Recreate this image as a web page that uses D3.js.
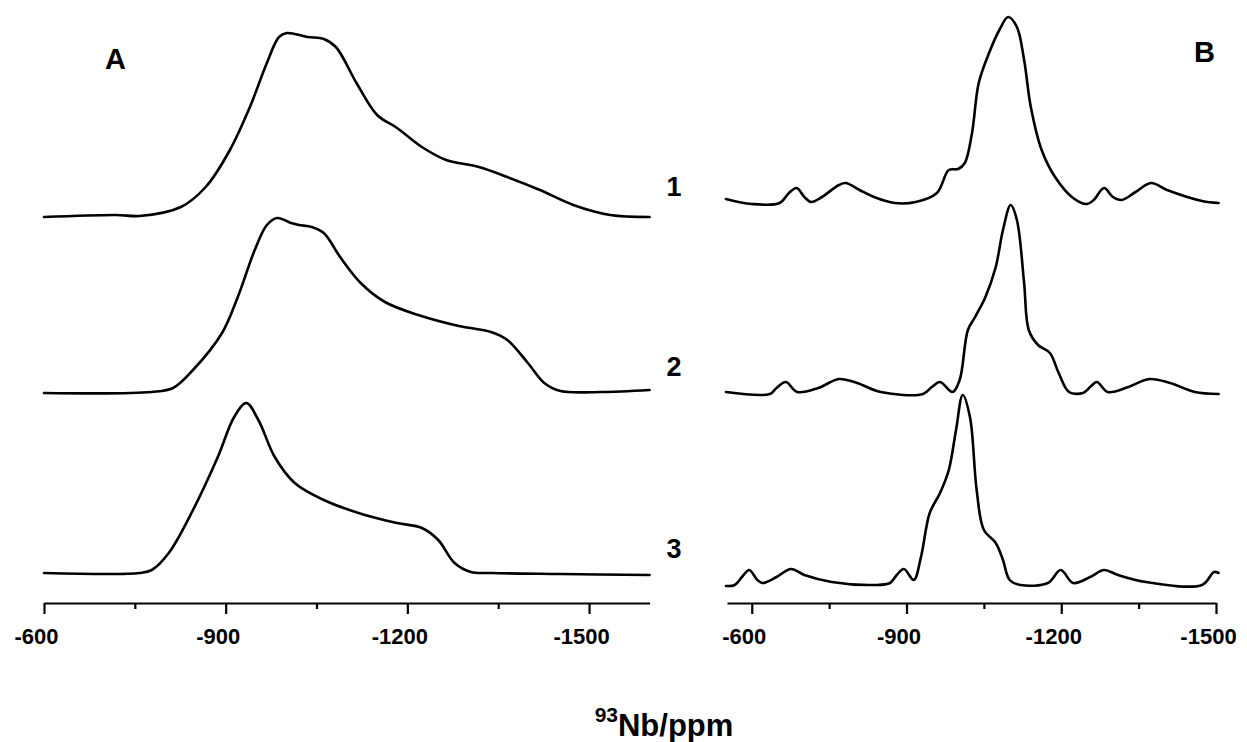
<!DOCTYPE html>
<html>
<head>
<meta charset="utf-8">
<script src="https://cdn.jsdelivr.net/npm/d3@7"></script>
<style>
  html, body { margin: 0; padding: 0; background: #fff; }
  svg { display: block; }
  text { font-family: "Liberation Sans", Arial, Helvetica, sans-serif; font-weight: bold; fill: #000; }
</style>
</head>
<body>
<svg id="chart" width="1247" height="742"></svg>
<script>
// ---------- DATA ----------
// Panel A: chemical shift (ppm) and intensity (arbitrary units)
const A1_ppm = [-600,-719,-758,-826,-867,-907,-940,-968,-988,-1001,-1035,-1062,-1082,-1116,-1150,-1183,-1224,-1264,-1318,-1365,-1419,-1474,-1535,-1600];
const A1_int = [0,2,1,10,30,67,110,154,180,184,180,178,170,134,102,89,70,57,50,40,27,12,2,0];

const A2_ppm = [-600,-778,-813,-846,-894,-920,-948,-968,-985,-1008,-1021,-1042,-1062,-1089,-1123,-1163,-1218,-1285,-1338,-1365,-1399,-1426,-1453,-1520,-1600];
const A2_int = [0,1,5,23,60,96,143,168,175,170,168,166,160,136,110,91,78,67,61,53,30,10,2,1,3];

const A3_ppm = [-600,-758,-778,-806,-846,-887,-914,-934,-954,-981,-1014,-1062,-1130,-1183,-1224,-1251,-1278,-1305,-1340,-1453,-1600];
const A3_int = [0,0,3,20,63,116,156,170,153,116,90,73,58,50,45,33,10,1,0,-1,-2];

// Panel B
const B1_ppm = [-550,-600,-654,-672,-687,-702,-715,-736,-769,-782,-809,-837,-877,-918,-959,-982,-1000,-1013,-1027,-1040,-1060,-1080,-1097,-1114,-1128,-1141,-1162,-1188,-1223,-1250,-1263,-1283,-1300,-1317,-1344,-1374,-1405,-1473,-1505];
const B1_int = [4,-1,0,10,15,6,1,6,18,20,13,6,0,1,10,33,34,40,70,120,150,173,186,176,143,96,53,26,5,-1,3,15,6,3,11,20,13,2,0];

const B2_ppm = [-550,-635,-648,-666,-688,-729,-769,-804,-850,-932,-949,-965,-989,-1003,-1019,-1033,-1053,-1073,-1087,-1102,-1114,-1128,-1137,-1155,-1178,-1195,-1215,-1242,-1256,-1269,-1290,-1330,-1371,-1411,-1459,-1505];
const B2_int = [2,0,6,12,2,6,15,11,2,0,7,12,2,14,64,77,97,127,164,189,174,111,64,49,41,21,2,1,7,12,2,7,15,11,2,0];

const B3_ppm = [-550,-567,-581,-595,-611,-621,-648,-676,-702,-755,-837,-868,-881,-895,-914,-928,-945,-965,-982,-996,-1009,-1023,-1036,-1050,-1073,-1087,-1100,-1121,-1174,-1199,-1223,-1256,-1283,-1310,-1364,-1473,-1496,-1505];
const B3_int = [-1,0,8,15,5,2,8,16,10,3,0,2,10,16,5,28,72,92,115,155,190,168,95,55,42,25,5,0,2,15,2,8,15,10,3,0,13,12];

// vertical stacking offsets of traces 1,2,3 (same arbitrary units)
const offsetsA = [386, 210, 30];
const offsetsB = [400, 209, 18];
const traceLabels = ["1", "2", "3"];
const panelLabels = ["A", "B"];

// axis ticks (ppm)
const majorTicks = [-600, -900, -1200, -1500];
const minorTicks = [-750, -1050, -1350];
const axisTitleSup = "93";
const axisTitleMain = "Nb/ppm";

// ---------- DRAWING ----------
const svg = d3.select("#chart");
svg.append("rect").attr("width", 1247).attr("height", 742).attr("fill", "#fff");

const xA = d3.scaleLinear().domain([-600, -1600]).range([44, 649.6]);
const xB = d3.scaleLinear().domain([-552, -1500]).range([727, 1216]);
const y = d3.scaleLinear().domain([0, 600]).range([603, 3]);

const panels = [
  { x: xA, offsets: offsetsA, traces: [[A1_ppm, A1_int], [A2_ppm, A2_int], [A3_ppm, A3_int]] },
  { x: xB, offsets: offsetsB, traces: [[B1_ppm, B1_int], [B2_ppm, B2_int], [B3_ppm, B3_int]] }
];

panels.forEach(p => {
  p.traces.forEach((t, i) => {
    const pts = t[0].map((v, k) => ({ ppm: v, val: t[1][k] + p.offsets[i] }));
    const line = d3.line()
      .x(d => p.x(d.ppm))
      .y(d => y(d.val))
      .curve(d3.curveCatmullRom.alpha(0.5));
    svg.append("path")
      .datum(pts)
      .attr("d", line)
      .attr("fill", "none")
      .attr("stroke", "#000")
      .attr("stroke-width", 2.6)
      .attr("stroke-linejoin", "round")
      .attr("stroke-linecap", "round");
  });

  // major axis
  const gAxis = svg.append("g").attr("transform", `translate(0,${y(0)})`);
  gAxis.call(d3.axisBottom(p.x).tickValues(majorTicks).tickSize(11).tickSizeOuter(0).tickPadding(14).tickFormat(d3.format("d")));
  gAxis.select(".domain").attr("stroke", "#000").attr("stroke-width", 2.2);
  gAxis.selectAll(".tick line").attr("stroke", "#000").attr("stroke-width", 2.2);
  gAxis.selectAll(".tick text")
    .attr("font-size", 22)
    .attr("font-family", "'Liberation Sans', Arial, sans-serif")
    .attr("font-weight", "bold")
    .attr("dx", -8)
    .text(d => "-" + Math.abs(d));

  // minor ticks
  const gMinor = svg.append("g").attr("transform", `translate(0,${y(0)})`);
  gMinor.call(d3.axisBottom(p.x).tickValues(minorTicks).tickSize(6).tickSizeOuter(0).tickFormat(""));
  gMinor.select(".domain").remove();
  gMinor.selectAll(".tick line").attr("stroke", "#000").attr("stroke-width", 2.2);
});

// panel labels
svg.append("text").attr("x", 105).attr("y", 69).attr("font-size", 29).text(panelLabels[0]);
svg.append("text").attr("x", 1194).attr("y", 62).attr("font-size", 29).text(panelLabels[1]);

// trace labels
const traceLabelY = [196, 376, 558];
traceLabels.forEach((l, i) => {
  svg.append("text").attr("x", 674).attr("y", traceLabelY[i])
    .attr("text-anchor", "middle").attr("font-size", 27).text(l);
});

// axis title
const title = svg.append("text").attr("x", 664).attr("y", 736).attr("text-anchor", "middle").attr("font-size", 31);
title.append("tspan").attr("font-size", 21).attr("dy", -14).text(axisTitleSup);
title.append("tspan").attr("dy", 14).text(axisTitleMain);
</script>
</body>
</html>
